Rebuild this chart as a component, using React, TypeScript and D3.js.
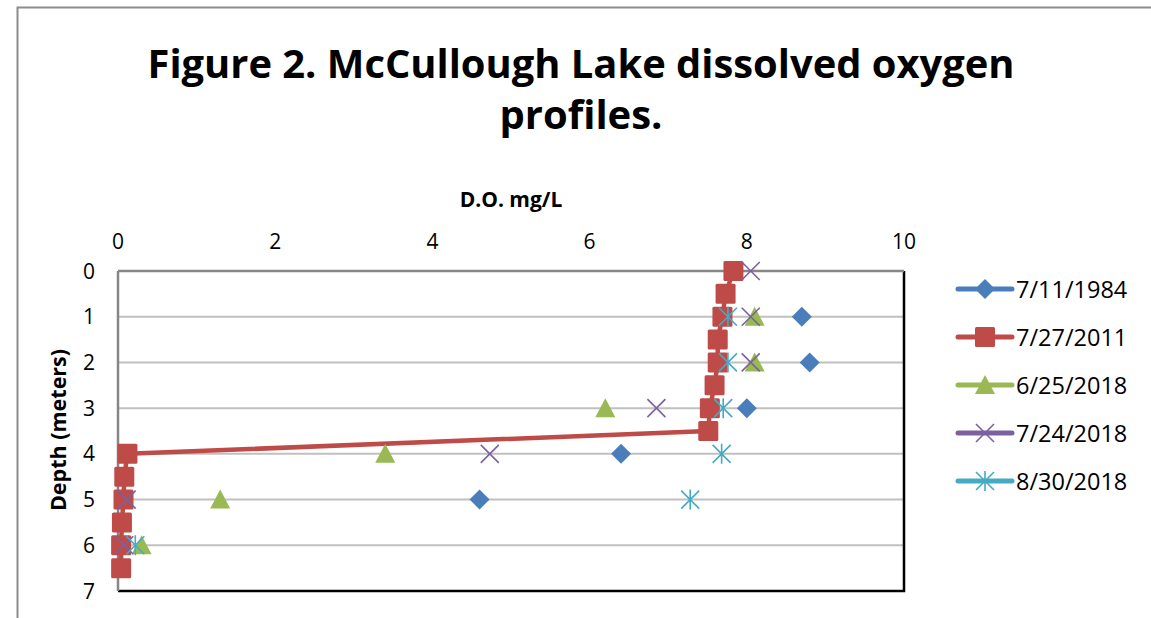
import React from "react";
import * as d3 from "d3";

const seriesNames = ["7/11/1984", "7/27/2011", "6/25/2018", "7/24/2018", "8/30/2018"];
const seriesColors = ["#4a7ebb", "#be4b48", "#98b954", "#7d60a0", "#46aac5"];
const seriesMarkers = ["diamond", "square", "triangle", "x", "star"];

const depth1984 = [1, 2, 3, 4, 5];
const do1984 = [8.7, 8.8, 8.0, 6.4, 4.6];

const depth2011 = [0, 0.5, 1, 1.5, 2, 2.5, 3, 3.5, 4, 4.5, 5, 5.5, 6, 6.5];
const do2011 = [7.83, 7.73, 7.69, 7.63, 7.63, 7.59, 7.53, 7.51, 0.12, 0.08, 0.07, 0.05, 0.04, 0.04];

const depthJun2018 = [1, 2, 3, 4, 5, 6];
const doJun2018 = [8.1, 8.1, 6.2, 3.4, 1.3, 0.3];

const depthJul2018 = [0, 1, 2, 3, 4, 5, 6];
const doJul2018 = [8.05, 8.05, 8.05, 6.85, 4.73, 0.11, 0.08];

const depthAug2018 = [1, 2, 3, 4, 5, 6];
const doAug2018 = [7.76, 7.76, 7.7, 7.68, 7.28, 0.22];

const xTicks = [0, 2, 4, 6, 8, 10];
const yTicks = [0, 1, 2, 3, 4, 5, 6, 7];

const seriesDepths = [depth1984, depth2011, depthJun2018, depthJul2018, depthAug2018];
const seriesValues = [do1984, do2011, doJun2018, doJul2018, doAug2018];
const seriesHasLine = [false, true, false, false, false];

const FONT = "'Open Sans', 'Noto Sans', sans-serif";

function Marker({ kind, x, y, color }: { kind: string; x: number; y: number; color: string }) {
  if (kind === "diamond") {
    const r = 10;
    return <path d={`M${x},${y - r}L${x + r},${y}L${x},${y + r}L${x - r},${y}Z`} fill={color} />;
  }
  if (kind === "square") {
    return <rect x={x - 10} y={y - 10} width={20} height={20} rx={1.5} fill={color} />;
  }
  if (kind === "triangle") {
    return <path d={`M${x},${y - 10}L${x + 10},${y + 9}L${x - 10},${y + 9}Z`} fill={color} />;
  }
  if (kind === "x") {
    const r = 9;
    return (
      <path
        d={`M${x - r},${y - r}L${x + r},${y + r}M${x - r},${y + r}L${x + r},${y - r}`}
        stroke={color}
        strokeWidth={1.6}
        fill="none"
      />
    );
  }
  const r = 9;
  return (
    <path
      d={`M${x - r},${y - r}L${x + r},${y + r}M${x - r},${y + r}L${x + r},${y - r}M${x},${y - r - 1}L${x},${y + r + 1}`}
      stroke={color}
      strokeWidth={1.6}
      fill="none"
    />
  );
}

export default function App() {
  const W = 1151;
  const H = 618;
  const left = 118;
  const right = 904;
  const top = 271;
  const bottom = 591;

  const x = d3.scaleLinear().domain([0, 10]).range([left, right]);
  const y = d3.scaleLinear().domain([0, 7]).range([top, bottom]);

  const legendY = [289, 337, 385, 433, 481];

  return (
    <div style={{ position: "absolute", left: 0, top: 0 }}>
      <svg width={W} height={H} style={{ display: "block", background: "#fff" }}>
        <rect x={0} y={0} width={W} height={H} fill="#fff" />
        {/* outer chart border */}
        <path d={`M17.5,${H}L17.5,7.5L${W},7.5`} stroke="#8c8c8c" strokeWidth={2} fill="none" />

        {/* title */}
        <text
          x={581}
          y={78}
          textAnchor="middle"
          fontFamily={FONT}
          fontWeight="bold"
          fontSize={40}
          textLength={867}
          lengthAdjust="spacingAndGlyphs"
          fill="#000"
        >
          Figure 2. McCullough Lake dissolved oxygen
        </text>
        <text x={581} y={129} textAnchor="middle" fontFamily={FONT} fontWeight="bold" fontSize={40} fill="#000">
          profiles.
        </text>

        {/* axis titles */}
        <text x={511} y={207} textAnchor="middle" fontFamily={FONT} fontWeight="bold" fontSize={21} fill="#000">
          D.O. mg/L
        </text>
        <text
          transform={`translate(66,430) rotate(-90)`}
          textAnchor="middle"
          fontFamily={FONT}
          fontWeight="bold"
          fontSize={21.5}
          fill="#000"
        >
          Depth (meters)
        </text>

        {/* gridlines */}
        {yTicks
          .filter((t) => t > 0 && t < 7)
          .map((t) => (
            <line key={t} x1={left} x2={right} y1={y(t)} y2={y(t)} stroke="#c0c0c0" strokeWidth={2} />
          ))}

        {/* plot border */}
        <path d={`M${left},${bottom}L${right},${bottom}L${right},${top}`} stroke="#000" strokeWidth={2.5} fill="none" />
        {/* axes */}
        <line x1={left} x2={right} y1={top} y2={top} stroke="#868686" strokeWidth={2.5} />
        <line x1={left} x2={left} y1={top} y2={bottom} stroke="#868686" strokeWidth={2.5} />

        {/* tick labels */}
        {xTicks.map((t) => (
          <text key={t} x={x(t)} y={249} textAnchor="middle" fontFamily={FONT} fontSize={21} fill="#000">
            {t}
          </text>
        ))}
        {yTicks.map((t) => (
          <text key={t} x={95} y={y(t) + 7.5} textAnchor="end" fontFamily={FONT} fontSize={21} fill="#000">
            {t}
          </text>
        ))}

        {/* series */}
        {seriesNames.map((name, si) => {
          const depths = seriesDepths[si];
          const vals = seriesValues[si];
          const pts: [number, number][] = vals.map((v, i) => [x(v), y(depths[i])]);
          const path = d3.line()(pts);
          return (
            <g key={name}>
              {seriesHasLine[si] && (
                <path d={path || ""} stroke={seriesColors[si]} strokeWidth={4.5} fill="none" strokeLinejoin="round" />
              )}
              {pts.map((p, i) => (
                <Marker key={i} kind={seriesMarkers[si]} x={p[0]} y={p[1]} color={seriesColors[si]} />
              ))}
            </g>
          );
        })}

        {/* legend */}
        {seriesNames.map((name, si) => (
          <g key={name}>
            <line
              x1={958}
              x2={1012}
              y1={legendY[si]}
              y2={legendY[si]}
              stroke={seriesColors[si]}
              strokeWidth={5}
              strokeLinecap="round"
            />
            <Marker kind={seriesMarkers[si]} x={985} y={legendY[si]} color={seriesColors[si]} />
            <text x={1016} y={legendY[si] + 8.5} fontFamily={FONT} fontSize={23.5} fill="#000">
              {name}
            </text>
          </g>
        ))}
      </svg>
    </div>
  );
}
